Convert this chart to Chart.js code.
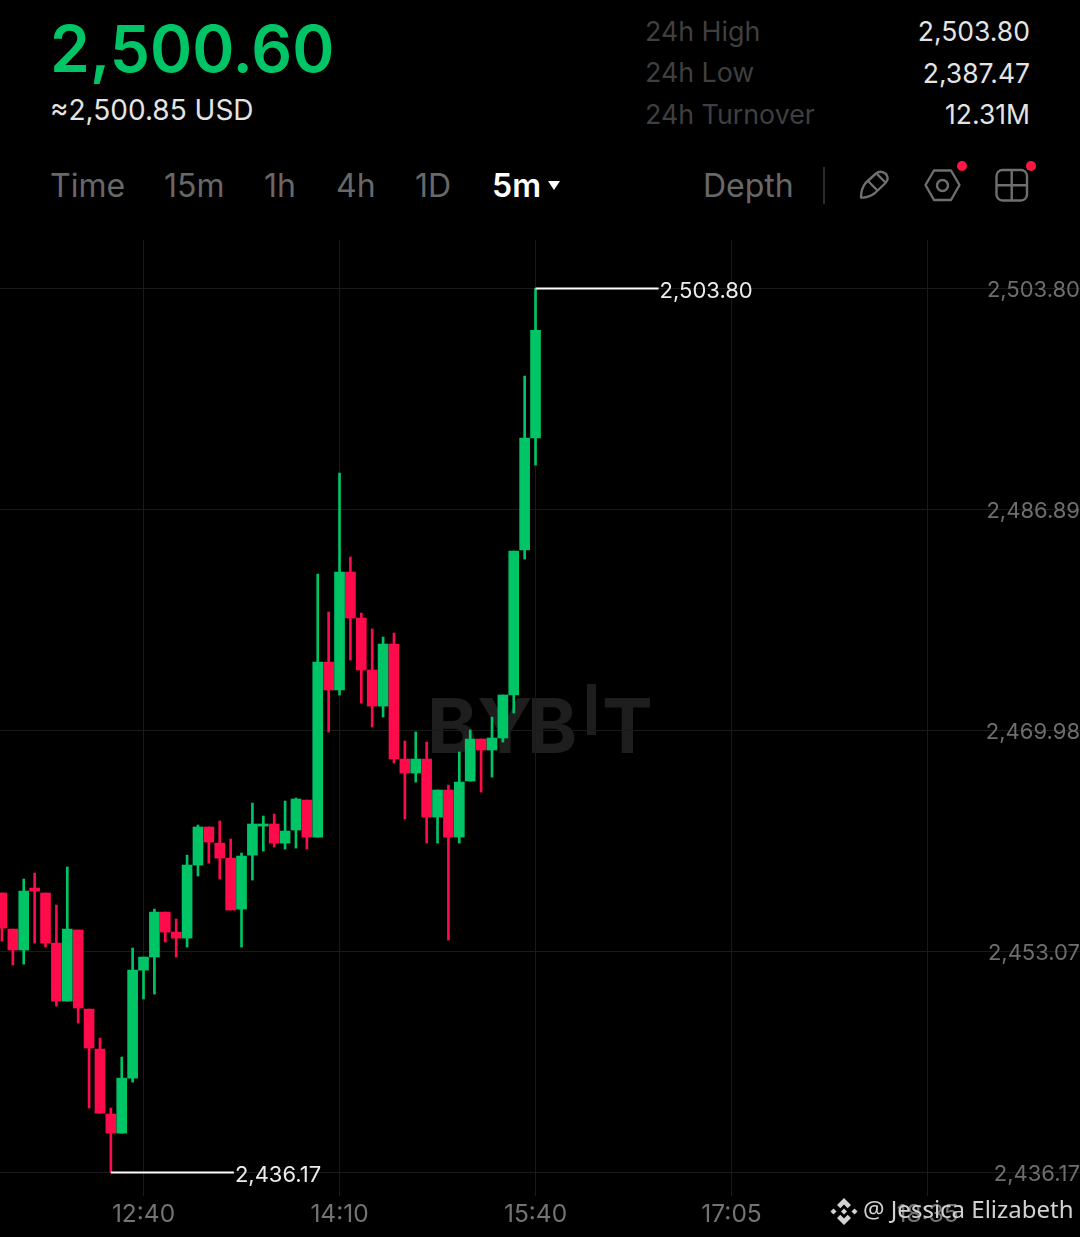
<!DOCTYPE html>
<html><head><meta charset="utf-8">
<script src="https://cdn.jsdelivr.net/npm/chart.js@4/dist/chart.umd.min.js"></script>
<style>
html,body{margin:0;padding:0;background:#000;width:1080px;height:1237px;overflow:hidden;font-family:Inter,sans-serif}
#wrap{position:relative;width:1080px;height:1237px;background:#000}
.t{position:absolute;white-space:nowrap;line-height:1}
.r{text-align:right}
canvas{position:absolute;left:0;top:0}
svg{position:absolute;overflow:visible}
.wm{position:absolute;color:#1e1e1e;font-weight:700;font-size:76px;line-height:1;top:687px}
</style></head><body>
<div id="wrap">
<div class="t" style="left:50px;top:17px;font-size:64px;font-weight:600;color:#00c566;">2,500.60</div>
<div class="t" style="left:50px;top:96px;font-size:28px;color:#e4e4e4;">≈2,500.85 USD</div>
<div class="t" style="left:645px;top:18px;font-size:26.800px;color:#3f3f3f;">24h High</div>
<div class="t" style="left:645px;top:59px;font-size:26.800px;color:#3f3f3f;">24h Low</div>
<div class="t" style="left:645px;top:101px;font-size:26.800px;color:#3f3f3f;">24h Turnover</div>
<div class="t r" style="right:50px;top:18px;font-size:26.500px;color:#e4e4e4;">2,503.80</div>
<div class="t r" style="right:50px;top:60px;font-size:26.500px;color:#e4e4e4;">2,387.47</div>
<div class="t r" style="right:50px;top:101px;font-size:26.500px;color:#e4e4e4;">12.31M</div>
<div class="t" style="left:50px;top:170px;font-size:32px;color:#686868;">Time</div>
<div class="t" style="left:164px;top:170px;font-size:32px;color:#686868;">15m</div>
<div class="t" style="left:264px;top:170px;font-size:32px;color:#686868;">1h</div>
<div class="t" style="left:336px;top:170px;font-size:32px;color:#686868;">4h</div>
<div class="t" style="left:415px;top:170px;font-size:32px;color:#686868;">1D</div>
<div class="t" style="left:492px;top:170px;font-size:32px;font-weight:600;color:#fff;">5m</div>
<svg style="left:0;top:0" width="1080" height="240" viewBox="0 0 1080 240">
<path d="M548 181H560L554 190Z" fill="#fff"/>
<line x1="824" y1="167" x2="824" y2="204" stroke="#3a3a3a" stroke-width="1.5"/>
<g fill="none" stroke="#6f6f6f" stroke-width="2.4" stroke-linejoin="round">
<path d="M861 197.500C861 191 863 186 866 182.500L876 173.500C879 171 883 171.500 886 174C888 177 888 180.500 885.500 183L875 193C871 196 866 198 861 197.500Z"/>
<path d="M868 181L878 191M877 174L886 183"/>
<path d="M925.500 185L934 170.500H951L959.500 185L951 200H934Z"/>
<circle cx="942.500" cy="185.500" r="5.500"/>
<rect x="996.500" y="170" width="30.500" height="30.500" rx="6"/>
<path d="M1011.700 170V200.500M996.500 185.300H1027"/>
</g>
<circle cx="962" cy="166" r="5" fill="#ff1744"/>
<circle cx="1031" cy="166" r="5" fill="#ff1744"/>
</svg>
<div class="t" style="left:703px;top:170px;font-size:32px;color:#686868;">Depth</div>
<div class="wm" style="left:427px;">B</div>
<div class="wm" style="left:477px;">Y</div>
<div class="wm" style="left:527px;">B</div>
<div class="wm" style="left:602px;">T</div>
<div style="position:absolute;left:587px;top:684px;width:9px;height:51px;background:#1e1e1e"></div>
<canvas id="c" width="1080" height="1237"></canvas>
<svg style="left:0;top:0" width="1080" height="1237" viewBox="0 0 1080 1237">
<g fill="#d2d2d2">
<path d="M844 1198l7 7-3.300 3.300-3.700-3.700-3.700 3.700-3.300-3.300Z"/>
<path d="M844 1225l7-7-3.300-3.300-3.700 3.700-3.700-3.700-3.300 3.300Z"/>
<path d="M830.500 1211.500l3-3 3 3-3 3Z"/>
<path d="M851.500 1211.500l3-3 3 3-3 3Z"/>
<path d="M844 1208.500l3 3-3 3-3-3Z"/>
</g></svg>
<div class="t" style="left:863px;top:1197px;font-size:24px;font-family:'Noto Sans';color:#d2d2d2;">@ Jessica Elizabeth</div>
</div>
<script>
const yTickValues=[2503.80,2486.89,2469.98,2453.07,2436.17];
const yTickLabels=["2,503.80","2,486.89","2,469.98","2,453.07","2,436.17"];
const xTickPositions=[13,31,49,67,85];
const xTickLabels=["12:40","14:10","15:40","17:05","18:35"];
const opens=[2457.55,2454.79,2453.19,2457.93,2457.55,2453.72,2449.28,2454.72,2448.67,2445.61,2440.64,2439.18,2443.39,2451.65,2452.65,2456.09,2454.56,2454.10,2459.69,2462.60,2461.37,2460.22,2456.32,2460.45,2462.67,2462.83,2461.37,2462.37,2464.66,2461.83,2475.22,2473.08,2482.11,2478.59,2474.61,2471.85,2476.60,2467.80,2466.73,2467.80,2463.36,2465.43,2461.83,2466.12,2469.33,2468.49,2469.41,2472.70,2483.79,2492.36];
const highs=[2457.55,2454.79,2458.62,2459.08,2457.55,2456.63,2459.54,2454.72,2448.67,2446.45,2441.10,2445.00,2453.34,2452.65,2456.32,2456.09,2455.56,2460.45,2462.75,2462.60,2463.06,2461.68,2460.61,2464.43,2463.44,2463.59,2464.59,2464.82,2464.66,2481.95,2479.05,2489.68,2483.26,2478.97,2477.75,2477.13,2477.44,2469.18,2469.87,2469.10,2465.43,2465.81,2468.34,2470.02,2469.33,2471.01,2472.70,2483.71,2497.10,2503.80];
const lows=[2453.87,2452.04,2452.11,2453.72,2453.41,2448.90,2449.28,2447.60,2441.10,2440.71,2436.17,2439.18,2443.08,2449.44,2449.82,2453.80,2452.65,2453.41,2458.85,2459.84,2458.62,2456.25,2453.41,2458.54,2460.76,2461.07,2460.91,2460.99,2460.91,2461.83,2469.87,2472.70,2475.37,2472.08,2470.25,2471.01,2467.49,2463.21,2466.04,2461.37,2461.37,2453.95,2461.37,2466.12,2465.27,2466.42,2469.10,2471.32,2483.10,2490.29];
const closes=[2454.87,2453.19,2457.70,2457.70,2453.72,2449.28,2454.79,2448.75,2445.69,2440.71,2439.18,2443.39,2451.65,2452.65,2456.09,2454.56,2454.10,2459.69,2462.60,2461.45,2460.22,2456.25,2460.38,2462.83,2462.83,2461.37,2462.29,2464.74,2461.83,2475.22,2473.08,2482.11,2478.59,2474.61,2471.85,2476.60,2467.80,2466.73,2467.80,2463.36,2465.43,2461.83,2466.04,2469.33,2468.49,2469.41,2472.70,2483.71,2492.36,2500.60];
const UP="#00c566",DOWN="#ff0a4a",GRID="#1a1a1a";
const colors=opens.map((o,i)=>closes[i]>=o?UP:DOWN);
const wicks=lows.map((l,i)=>({x:i,y:[l,highs[i]]}));
const bodies=opens.map((o,i)=>({x:i,y:[Math.min(o,closes[i]),Math.max(o,closes[i])]}));
const hiIdx=highs.indexOf(Math.max(...highs)),loIdx=lows.indexOf(Math.min(...lows));
const hiV=highs[hiIdx],loV=lows[loIdx],span=11.3;
const fmt=v=>v.toLocaleString("en-US",{minimumFractionDigits:2,maximumFractionDigits:2});
const extremeLabels={id:"extremeLabels",afterDatasetsDraw(ch){
  const {ctx,scales:{x,y}}=ch;ctx.save();ctx.font="22px Inter";ctx.fillStyle="#ececec";ctx.textAlign="left";ctx.textBaseline="middle";
  ctx.fillText(fmt(hiV),x.getPixelForValue(hiIdx+span)+1,y.getPixelForValue(hiV)+3);
  ctx.fillText(fmt(loV),x.getPixelForValue(loIdx+span)+1,y.getPixelForValue(loV)+3);
  ctx.restore();}};
new Chart(document.getElementById("c"),{
  data:{datasets:[
    {type:"line",data:[{x:hiIdx,y:hiV},{x:hiIdx+span,y:hiV}],borderColor:"#fff",borderWidth:2,pointRadius:0,order:0},
    {type:"line",data:[{x:loIdx,y:loV},{x:loIdx+span,y:loV}],borderColor:"#fff",borderWidth:2,pointRadius:0,order:0},
    {type:"bar",data:bodies,backgroundColor:colors,barThickness:10,grouped:false,order:1},
    {type:"bar",data:wicks,backgroundColor:colors,barThickness:2,grouped:false,order:2}
  ]},
  plugins:[extremeLabels],
  options:{responsive:false,animation:false,devicePixelRatio:1,
    layout:{padding:{top:240,left:0,right:0,bottom:0}},
    plugins:{legend:{display:false},tooltip:{enabled:false},title:{display:false}},
    scales:{
      x:{type:"linear",offset:false,min:-0.18,max:99.0,
        afterBuildTicks(s){s.ticks=xTickPositions.map(v=>({value:v}));},
        afterFit(s){s.height=41;},
        border:{display:false},grid:{offset:false,color:GRID,lineWidth:1,drawTicks:false},
        ticks:{autoSkip:false,maxRotation:0,padding:4,color:"#737373",font:{family:"Inter",size:24.500},
          callback:(v)=>xTickLabels[xTickPositions.indexOf(v)]}},
      y:{type:"linear",position:"right",min:2434.37,max:2507.51,
        afterBuildTicks(s){s.ticks=yTickValues.map(v=>({value:v}));},
        border:{display:false},grid:{color:GRID,lineWidth:1,drawTicks:false},
        ticks:{mirror:true,padding:0,labelOffset:2,color:"#6e6e6e",font:{family:"Inter",size:22},
          callback:(v)=>yTickLabels[yTickValues.indexOf(v)]}}
    }}
});
</script>
</body></html>
